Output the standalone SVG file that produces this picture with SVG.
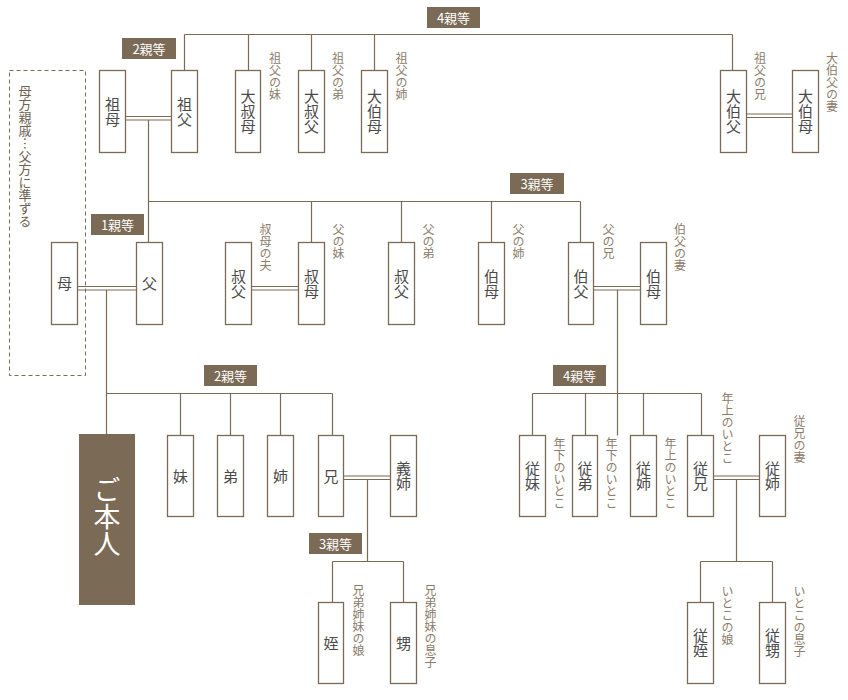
<svg xmlns="http://www.w3.org/2000/svg" width="848" height="700" viewBox="0 0 848 700">
<style>
  .box { fill: #fff; stroke: #7b6a55; stroke-width: 1.3; }
  .self { fill: #7b6a55; stroke: none; }
  .ln { fill: none; stroke: #7b6a55; stroke-width: 1.2; }
  .tag rect { fill: #7b6a55; }
  .tag text { fill: #fff; font-family: "Noto Sans CJK JP", "Noto Sans", sans-serif; font-size: 13px; text-anchor: middle; }
  .nt { fill: #4a4a4a; font-family: "Noto Sans CJK JP", sans-serif; font-size: 15px; writing-mode: vertical-rl; text-anchor: middle; }
  .lb { fill: #8a7c6b; font-family: "Noto Sans CJK JP", sans-serif; font-size: 12px; writing-mode: vertical-rl; text-anchor: start; }
  .big { fill: #fff; font-family: "Noto Sans CJK JP", sans-serif; font-size: 27px; writing-mode: vertical-rl; text-anchor: middle; }
  .note { fill: #6e6253; font-family: "Noto Sans CJK JP", sans-serif; font-size: 13px; writing-mode: vertical-rl; text-anchor: start; }
</style>

<g id="connectors">
  <!-- top generation -->
  <path class="ln" d="M184.5 34.5 H732.5 M184.5 34.5 V70.5 M248.5 34.5 V70.5 M311.5 34.5 V70.5 M374.5 34.5 V70.5 M732.5 34.5 V70.5"/>
  <path class="ln" d="M125.5 116.5 H171.5 M125.5 120 H171.5 M148.5 120 V242.5"/>
  <path class="ln" d="M746.5 114 H792.5 M746.5 117.5 H792.5"/>
  <!-- parents generation -->
  <path class="ln" d="M148.5 201.5 H580.5 M311.5 201.5 V242.5 M401.5 201.5 V242.5 M491.5 201.5 V242.5 M580.5 201.5 V242.5"/>
  <path class="ln" d="M77.5 286.5 H136.5 M77.5 290 H136.5 M106.5 290 V434"/>
  <path class="ln" d="M251.5 286.5 H298.5 M251.5 290 H298.5"/>
  <path class="ln" d="M593.5 286.5 H640.5 M593.5 290 H640.5 M617.5 290 V435.5"/>
  <!-- own generation -->
  <path class="ln" d="M106.5 393.5 H332.5 M180.5 393.5 V435.5 M230.5 393.5 V435.5 M280.5 393.5 V435.5 M332.5 393.5 V435.5"/>
  <path class="ln" d="M343.5 476 H390.5 M343.5 479.5 H390.5 M367.5 479.5 V561.5"/>
  <path class="ln" d="M332.5 561.5 H403.5 M332.5 561.5 V602.5 M403.5 561.5 V602.5"/>
  <path class="ln" d="M532.5 393.5 H701.5 M532.5 393.5 V435.5 M585.5 393.5 V435.5 M643.5 393.5 V435.5 M701.5 393.5 V435.5"/>
  <path class="ln" d="M713.5 476 H759.5 M713.5 479.5 H759.5 M736.5 479.5 V561.5"/>
  <path class="ln" d="M700.5 561.5 H772.5 M700.5 561.5 V602.5 M772.5 561.5 V602.5"/>
</g>

<g id="maternal-note">
  <rect x="9.5" y="70.5" width="76" height="305" fill="none" stroke="#7b6a55" stroke-width="1" stroke-dasharray="4 3"/>
  <text class="note" x="25" y="85">母方親戚…父方に準ずる</text>
</g>

<g id="degree-tags">
  <g class="tag" id="tag-4a"><rect x="427" y="7" width="53" height="21"/><text x="453.5" y="22.5">4親等</text></g>
  <g class="tag" id="tag-2a"><rect x="122" y="38" width="54" height="21"/><text x="149" y="53.5">2親等</text></g>
  <g class="tag" id="tag-1"><rect x="91" y="214" width="53" height="21"/><text x="117.5" y="229.5">1親等</text></g>
  <g class="tag" id="tag-3a"><rect x="510" y="173" width="54" height="21"/><text x="537" y="188.5">3親等</text></g>
  <g class="tag" id="tag-2b"><rect x="204" y="365" width="53" height="21"/><text x="230.5" y="380.5">2親等</text></g>
  <g class="tag" id="tag-4b"><rect x="553" y="365" width="53" height="21"/><text x="579.5" y="380.5">4親等</text></g>
  <g class="tag" id="tag-3b"><rect x="309" y="533" width="53" height="21"/><text x="335.5" y="548.5">3親等</text></g>
</g>

<!-- grandparents generation -->
<g id="sobo"><rect class="box" x="99.5" y="70.5" width="26" height="82"/><text class="nt" x="112.5" y="111.5">祖母</text></g>
<g id="sofu"><rect class="box" x="171.5" y="70.5" width="26" height="82"/><text class="nt" x="184.5" y="111.5">祖父</text></g>
<g id="oobaA"><rect class="box" x="235.5" y="70.5" width="25" height="82"/><text class="nt" x="248" y="111.5">大叔母</text><text class="lb" x="275" y="52">祖父の妹</text></g>
<g id="oojiA"><rect class="box" x="298.5" y="70.5" width="26" height="82"/><text class="nt" x="311.5" y="111.5">大叔父</text><text class="lb" x="338" y="52">祖父の弟</text></g>
<g id="oobaB"><rect class="box" x="361.5" y="70.5" width="26" height="82"/><text class="nt" x="374.5" y="111.5">大伯母</text><text class="lb" x="401.5" y="52">祖父の姉</text></g>
<g id="oojiB"><rect class="box" x="720.5" y="70.5" width="26" height="82"/><text class="nt" x="733.5" y="111.5">大伯父</text><text class="lb" x="760" y="52">祖父の兄</text></g>
<g id="oobaC"><rect class="box" x="792.5" y="70.5" width="26" height="82"/><text class="nt" x="805.5" y="111.5">大伯母</text><text class="lb" x="832" y="52">大伯父の妻</text></g>

<!-- parents generation -->
<g id="haha"><rect class="box" x="51.5" y="242.5" width="26" height="82"/><text class="nt" x="64.5" y="283.5">母</text></g>
<g id="chichi"><rect class="box" x="136.5" y="242.5" width="26" height="82"/><text class="nt" x="149.5" y="283.5">父</text></g>
<g id="ojiA"><rect class="box" x="225.5" y="242.5" width="26" height="82"/><text class="nt" x="238.5" y="283.5">叔父</text><text class="lb" x="265.5" y="223">叔母の夫</text></g>
<g id="obaA"><rect class="box" x="298.5" y="242.5" width="26" height="82"/><text class="nt" x="311.5" y="283.5">叔母</text><text class="lb" x="338.5" y="223">父の妹</text></g>
<g id="ojiB"><rect class="box" x="388.5" y="242.5" width="26" height="82"/><text class="nt" x="401.5" y="283.5">叔父</text><text class="lb" x="428.5" y="223">父の弟</text></g>
<g id="obaB"><rect class="box" x="478.5" y="242.5" width="26" height="82"/><text class="nt" x="491.5" y="283.5">伯母</text><text class="lb" x="518.5" y="223">父の姉</text></g>
<g id="ojiC"><rect class="box" x="568.5" y="242.5" width="25" height="82"/><text class="nt" x="581" y="283.5">伯父</text><text class="lb" x="608.5" y="223">父の兄</text></g>
<g id="obaC"><rect class="box" x="640.5" y="242.5" width="26" height="82"/><text class="nt" x="653.5" y="283.5">伯母</text><text class="lb" x="680" y="223">伯父の妻</text></g>

<!-- own generation -->
<g id="honnin"><rect class="self" x="79" y="434" width="56" height="171"/><text class="big" x="107" y="517">ご本人</text></g>
<g id="imouto"><rect class="box" x="167.5" y="435.5" width="26" height="81"/><text class="nt" x="180.5" y="476">妹</text></g>
<g id="otouto"><rect class="box" x="217.5" y="435.5" width="26" height="81"/><text class="nt" x="230.5" y="476">弟</text></g>
<g id="ane"><rect class="box" x="267.5" y="435.5" width="26" height="81"/><text class="nt" x="280.5" y="476">姉</text></g>
<g id="ani"><rect class="box" x="318.5" y="435.5" width="25" height="81"/><text class="nt" x="331" y="476">兄</text></g>
<g id="gishi"><rect class="box" x="390.5" y="435.5" width="26" height="81"/><text class="nt" x="403.5" y="476">義姉</text></g>
<g id="itokoA"><rect class="box" x="519.5" y="435.5" width="26" height="81"/><text class="nt" x="532.5" y="476">従妹</text><text class="lb" x="559.5" y="437">年下のいとこ</text></g>
<g id="itokoB"><rect class="box" x="572.5" y="435.5" width="25" height="81"/><text class="nt" x="585" y="476">従弟</text><text class="lb" x="611.5" y="437">年下のいとこ</text></g>
<g id="itokoC"><rect class="box" x="630.5" y="435.5" width="26" height="81"/><text class="nt" x="643.5" y="476">従姉</text><text class="lb" x="670.5" y="437">年上のいとこ</text></g>
<g id="itokoD"><rect class="box" x="687.5" y="435.5" width="26" height="81"/><text class="nt" x="700.5" y="476">従兄</text><text class="lb" x="727.5" y="392">年上のいとこ</text></g>
<g id="itokoE"><rect class="box" x="759.5" y="435.5" width="26" height="81"/><text class="nt" x="772.5" y="476">従姉</text><text class="lb" x="799.5" y="415">従兄の妻</text></g>

<!-- children generation -->
<g id="mei"><rect class="box" x="318.5" y="602.5" width="25" height="81"/><text class="nt" x="331" y="643">姪</text><text class="lb" x="358.5" y="584">兄弟姉妹の娘</text></g>
<g id="oi"><rect class="box" x="390.5" y="602.5" width="26" height="81"/><text class="nt" x="403.5" y="643">甥</text><text class="lb" x="430.5" y="584">兄弟姉妹の息子</text></g>
<g id="itokomei"><rect class="box" x="687.5" y="602.5" width="26" height="81"/><text class="nt" x="700.5" y="643">従姪</text><text class="lb" x="727.5" y="585">いとこの娘</text></g>
<g id="itokooi"><rect class="box" x="759.5" y="602.5" width="26" height="81"/><text class="nt" x="772.5" y="643">従甥</text><text class="lb" x="799.5" y="585">いとこの息子</text></g>
</svg>
